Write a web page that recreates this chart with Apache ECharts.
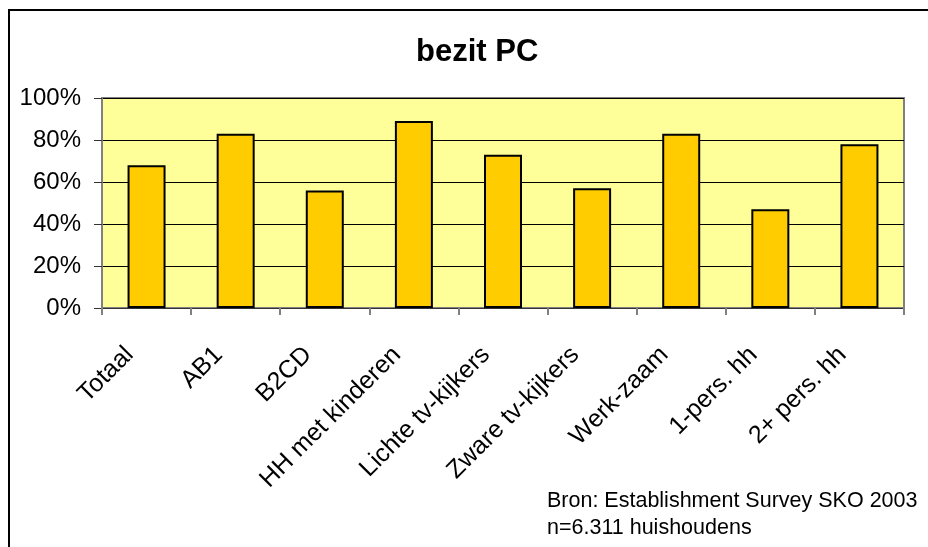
<!DOCTYPE html>
<html>
<head>
<meta charset="utf-8">
<script src="https://cdn.jsdelivr.net/npm/echarts@6/dist/echarts.min.js"></script>
<style>
  html, body { margin: 0; padding: 0; background: #fff; }
  #chart { width: 928px; height: 547px; }
</style>
</head>
<body>
<div id="chart"></div>
<script>
// data
const categories = ['Totaal', 'AB1', 'B2CD', 'HH met kinderen', 'Lichte tv-kijkers',
  'Zware tv-kijkers', 'Werk-zaam', '1-pers. hh', '2+ pers. hh'];
const bezitPC = [68, 83, 56, 89, 73, 57, 83, 47, 78];
const yTicks = [0, 20, 40, 60, 80, 100];
const bron = ['Bron: Establishment Survey SKO 2003', 'n=6.311 huishoudens'];

const font = '"Liberation Sans", Arial, sans-serif';
const chart = echarts.init(document.getElementById('chart'));

chart.setOption({
  backgroundColor: '#fff',
  animation: false,
  title: {
    text: 'bezit PC',
    left: 411,
    top: 32,
    textStyle: { fontFamily: font, fontSize: 31, fontWeight: 'bold', color: '#000' }
  },
  grid: {
    left: 102, top: 98, right: 24, bottom: 239,
    show: true, backgroundColor: '#FFFF99', borderColor: '#808080', borderWidth: 2
  },
  xAxis: {
    type: 'category',
    data: categories,
    axisLine: { lineStyle: { color: '#333', width: 1 } },
    axisTick: { show: true, length: 7, lineStyle: { color: '#808080', width: 2 } },
    axisLabel: {
      rotate: 45, margin: 26, padding: [0, 24, 0, 0],
      fontFamily: font, fontSize: 25, color: '#000'
    }
  },
  yAxis: {
    type: 'value',
    min: yTicks[0],
    max: yTicks[yTicks.length - 1],
    interval: 20,
    axisLine: { show: true, lineStyle: { color: '#808080', width: 2 } },
    axisTick: { show: true, length: 8, lineStyle: { color: '#333', width: 1 } },
    axisLabel: { margin: 21, fontFamily: font, fontSize: 24, color: '#000', formatter: '{value}%' },
    splitLine: { lineStyle: { color: '#000', width: 1 } }
  },
  series: [{
    type: 'bar',
    data: bezitPC,
    barWidth: 38,
    itemStyle: { color: '#FFCC00', borderColor: '#000', borderWidth: 2 }
  }],
  graphic: [
    {
      type: 'rect',
      shape: { x: 9, y: 10, width: 940, height: 560 },
      style: { fill: 'none', stroke: '#000', lineWidth: 2 }
    },
    {
      type: 'text', left: 547, top: 490,
      style: { text: bron[0], font: '21.5px ' + font, fill: '#000' }
    },
    {
      type: 'text', left: 547, top: 517,
      style: { text: bron[1], font: '21.5px ' + font, fill: '#000' }
    }
  ]
});
</script>
</body>
</html>
